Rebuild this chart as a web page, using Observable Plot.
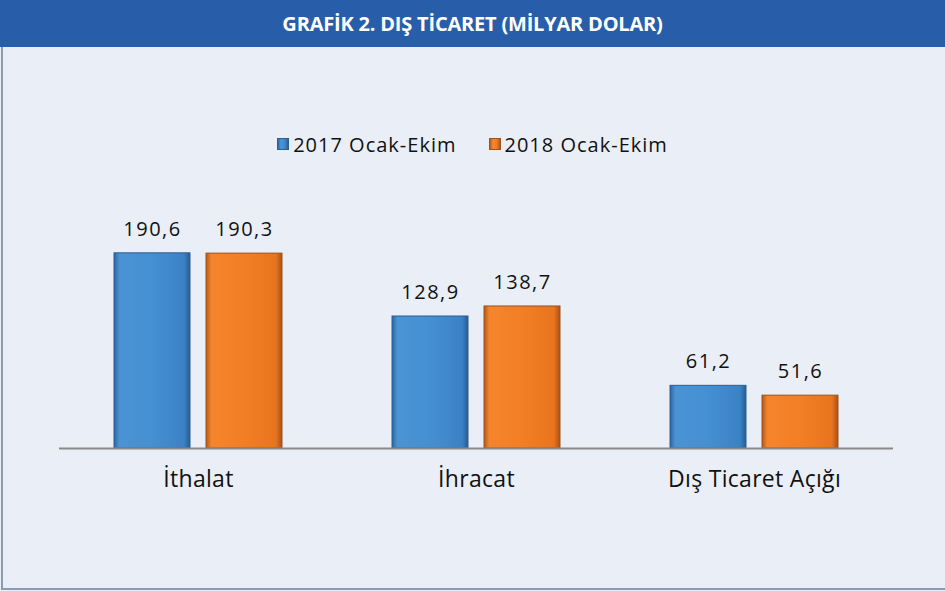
<!DOCTYPE html>
<html><head><meta charset="utf-8">
<script src="https://cdn.jsdelivr.net/npm/d3@7"></script>
<script src="https://cdn.jsdelivr.net/npm/@observablehq/plot@0.6"></script>
<style>
html,body{margin:0;padding:0;background:#ffffff;}
#wrap{position:relative;width:945px;height:591px;background:#EAEEF6;overflow:hidden;font-family:"Open Sans",sans-serif;color:#111;}
#header{position:absolute;left:0;top:0;width:945px;height:47px;background:#285DAA;color:#fff;font-weight:700;font-size:20px;letter-spacing:-0.2px;display:flex;align-items:center;justify-content:center;}
#legend{position:absolute;left:0;top:131px;width:945px;height:26px;display:flex;justify-content:center;align-items:center;font-size:20px;letter-spacing:1px;}
.item{display:flex;align-items:center;margin:0 16px;}
.sw{width:12px;height:12px;margin-right:4px;box-sizing:border-box;}
#chart{position:absolute;left:0;top:170px;}
.bl{position:absolute;left:1px;top:47px;width:2px;height:543px;background:#8C9AB2;}
.bb{position:absolute;left:1px;top:588px;width:944px;height:2px;background:#8C9AB2;}
#chart g[aria-label="text"] text{letter-spacing:1.5px;}
#chart g[aria-label="fx-axis tick label"] text{letter-spacing:0.3px;}
</style></head>
<body>
<div id="wrap">
  <div id="header">GRAFİK 2. DIŞ TİCARET (MİLYAR DOLAR)</div>
  <div id="legend"></div>
  <div id="chart"></div>
  <div class="bl"></div><div class="bb"></div>
</div>
<script>
const categories = ["İthalat", "İhracat", "Dış Ticaret Açığı"];
const seriesNames = ["2017 Ocak-Ekim", "2018 Ocak-Ekim"];
const values2017 = [190.6, 128.9, 61.2];
const values2018 = [190.3, 138.7, 51.6];
const seriesFill = ["url(#g2017)", "url(#g2018)"];
const seriesStroke = ["#2B5E93", "#9E521C"];
const swatchCss = [
  "linear-gradient(90deg,#2C69A8,#4C96D7 30%,#3F86C9 70%,#2A5F96)",
  "linear-gradient(90deg,#B85A18,#F58A36 30%,#EE7A22 70%,#B35516)"
];

const data = categories.flatMap((c, i) => [
  {category: c, series: seriesNames[0], value: values2017[i]},
  {category: c, series: seriesNames[1], value: values2018[i]}
]);
const fmt = v => v.toFixed(1).replace(".", ",");

// legend
const legend = document.getElementById("legend");
seriesNames.forEach((s, i) => {
  const it = document.createElement("div"); it.className = "item";
  const sw = document.createElement("div"); sw.className = "sw"; sw.style.background = swatchCss[i];
  sw.style.border = "1px solid " + seriesStroke[i];
  const t = document.createElement("span"); t.textContent = s;
  it.appendChild(sw); it.appendChild(t); legend.appendChild(it);
});

const plot = Plot.plot({
  width: 945, height: 418,
  marginLeft: 58, marginRight: 51, marginTop: 22, marginBottom: 140,
  style: {background: "transparent", fontFamily: "'Open Sans', sans-serif", color: "#111", overflow: "visible"},
  fx: {domain: categories, padding: 0, axis: null, label: null},
  x: {domain: seriesNames, paddingInner: 0.172, paddingOuter: 0.586, axis: null},
  y: {domain: [0, 250], axis: null},
  marks: [
    ...seriesNames.map((s, i) => Plot.barY(data.filter(d => d.series === s), {
      fx: "category", x: "series", y: "value",
      fill: seriesFill[i], stroke: seriesStroke[i], strokeWidth: 1
    })),
    Plot.ruleY([0], {stroke: "#8A8A8A", strokeWidth: 2}),
    Plot.text(data, {fx: "category", x: "series", y: "value", text: d => fmt(d.value), dy: -24, fontSize: 20, fill: "#111"}),
    Plot.axisFx({anchor: "bottom", tickSize: 0, tickPadding: 22, fontSize: 23, label: null, fill: "#111"})
  ]
});

const ns = "http://www.w3.org/2000/svg";
const defs = document.createElementNS(ns, "defs");
defs.innerHTML = `
<linearGradient id="g2017" x1="0" x2="1" y1="0" y2="0">
  <stop offset="0" stop-color="#2C67A4"/>
  <stop offset="0.07" stop-color="#4A93D4"/>
  <stop offset="0.5" stop-color="#4590D2"/>
  <stop offset="0.92" stop-color="#3B82C5"/>
  <stop offset="1" stop-color="#285C92"/>
</linearGradient>
<linearGradient id="g2018" x1="0" x2="1" y1="0" y2="0">
  <stop offset="0" stop-color="#B45816"/>
  <stop offset="0.07" stop-color="#F5852D"/>
  <stop offset="0.5" stop-color="#F27E25"/>
  <stop offset="0.92" stop-color="#E8741D"/>
  <stop offset="1" stop-color="#A9521A"/>
</linearGradient>`;
plot.insertBefore(defs, plot.firstChild);
document.getElementById("chart").appendChild(plot);
</script>
</body></html>
